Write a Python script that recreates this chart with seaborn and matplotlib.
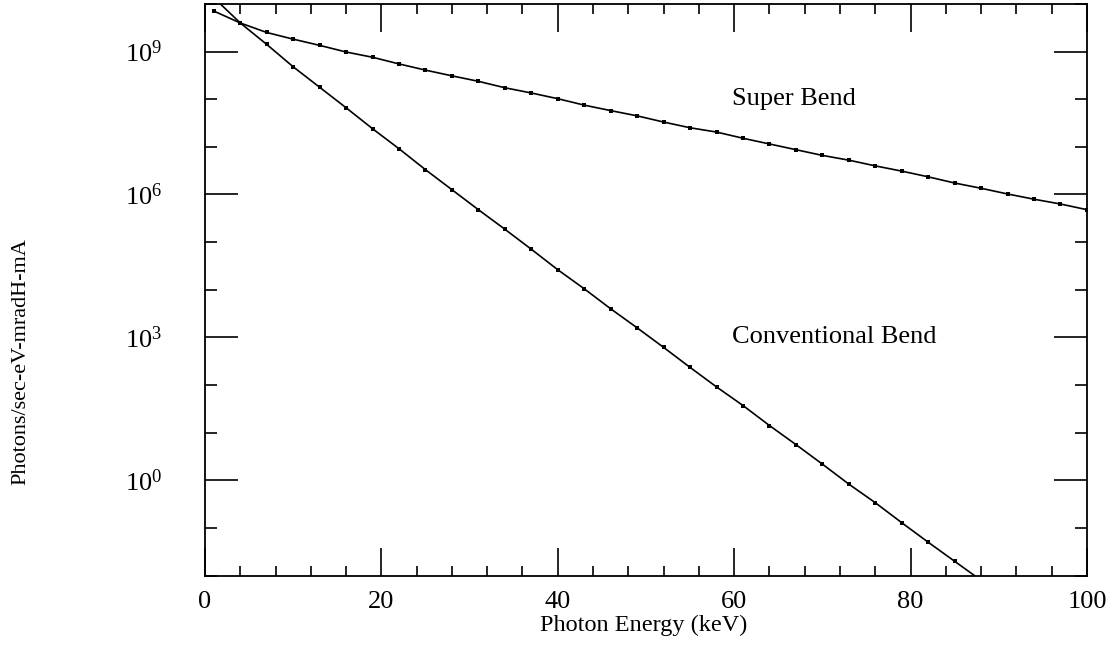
"""
plot.py
Photon flux vs photon energy for Super Bend and Conventional Bend magnets (log scale).
Saves out.png.
"""
import numpy as np
import pandas as pd
import matplotlib
matplotlib.use("Agg")
import matplotlib.pyplot as plt
import matplotlib.ticker as mticker
import seaborn as sns

# Photon energy (keV), sampled every 3 keV
energy = [1, 4, 7, 10, 13, 16, 19, 22, 25, 28, 31, 34, 37, 40, 43, 46, 49,
          52, 55, 58, 61, 64, 67, 70, 73, 76, 79, 82, 85, 88, 91, 94, 97, 100]

# log10 of flux (photons/sec-eV-mradH-mA)
super_bend_log = [9.85, 9.60, 9.40, 9.26, 9.13, 8.99, 8.88, 8.74, 8.61, 8.49,
                  8.375, 8.24, 8.13, 8.01, 7.875, 7.76, 7.65, 7.52, 7.40, 7.31,
                  7.18, 7.06, 6.94, 6.82, 6.72, 6.60, 6.49, 6.37, 6.24, 6.13,
                  6.01, 5.90, 5.80, 5.68]
conventional_log = [10.13, 9.60, 9.15, 8.68, 8.25, 7.82, 7.38, 6.96, 6.52, 6.10,
                    5.68, 5.27, 4.85, 4.42, 4.02, 3.60, 3.20, 2.79, 2.37, 1.96,
                    1.57, 1.15, 0.75, 0.34, -0.08, -0.47, -0.89, -1.30, -1.70, -2.10]

series_names = ["Super Bend", "Conventional Bend"]
major_exps = [0, 3, 6, 9]


def main():
    df = pd.concat([
        pd.DataFrame({"energy": energy, "flux": np.power(10.0, super_bend_log),
                      "series": series_names[0]}),
        pd.DataFrame({"energy": energy[:len(conventional_log)],
                      "flux": np.power(10.0, conventional_log),
                      "series": series_names[1]}),
    ], ignore_index=True)

    sns.set_theme(style="ticks")
    plt.rcParams["font.family"] = ["Liberation Serif", "DejaVu Serif"]
    plt.rcParams["mathtext.fontset"] = "custom"
    plt.rcParams["mathtext.rm"] = "Liberation Serif"
    plt.rcParams["mathtext.it"] = "Liberation Serif:italic"
    for key in ["text.color", "axes.labelcolor", "xtick.color", "ytick.color"]:
        plt.rcParams[key] = "black"

    fig, ax = plt.subplots(figsize=(11.08, 6.5), dpi=100)
    fig.subplots_adjust(left=0.185, right=0.981, bottom=0.1145, top=0.994)

    sns.lineplot(data=df, x="energy", y="flux", hue="series",
                 palette=["black", "black"], marker="s", markersize=3,
                 markeredgewidth=0, linewidth=1.2, legend=False, ax=ax)

    ax.set_yscale("log")
    ax.set_xlim(0, 100)
    ax.set_ylim(1e-2, 1e10)

    ax.xaxis.set_major_locator(mticker.MultipleLocator(20))
    ax.xaxis.set_minor_locator(mticker.MultipleLocator(4))
    ax.yaxis.set_major_locator(mticker.FixedLocator([10.0 ** e for e in major_exps]))
    ax.yaxis.set_minor_locator(mticker.FixedLocator([10.0 ** e for e in range(-2, 11)]))
    ax.yaxis.set_minor_formatter(mticker.NullFormatter())
    ax.yaxis.set_major_formatter(mticker.FuncFormatter(
        lambda v, p: r"$10^{%d}$" % int(round(np.log10(v)))))

    for side in ["top", "right", "bottom", "left"]:
        ax.spines[side].set_visible(True)
        ax.spines[side].set_linewidth(1.3)
        ax.spines[side].set_color("black")

    ax.tick_params(axis="both", which="both", direction="in", colors="black",
                   top=True, right=True, width=1.2)
    ax.tick_params(axis="y", which="major", length=24, pad=31, labelsize=19)
    ax.tick_params(axis="y", which="minor", length=8.5)
    ax.tick_params(axis="x", which="major", length=20, pad=11, labelsize=19)
    ax.tick_params(axis="x", which="minor", length=7)

    ax.set_xlabel("Photon Energy (keV)", fontsize=17.5)
    ax.set_ylabel("Photons/sec-eV-mradH-mA", fontsize=16)
    ax.xaxis.set_label_coords(0.497, -0.068)
    ax.yaxis.set_label_coords(-0.198, 0.374)
    ax.grid(False)

    ax.text(59.8, 1e8, "Super Bend", fontsize=19, ha="left", va="center")
    ax.text(59.7, 1e3, "Conventional Bend", fontsize=19, ha="left", va="center")

    fig.savefig("out.png", dpi=100)
    plt.close(fig)


if __name__ == "__main__":
    main()
